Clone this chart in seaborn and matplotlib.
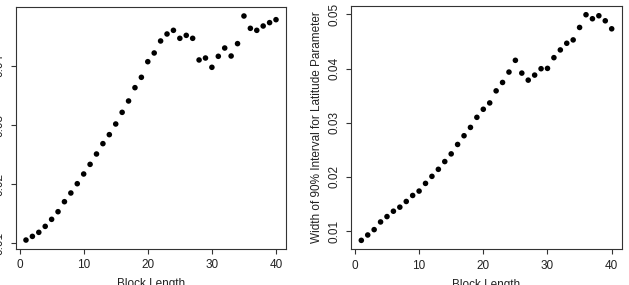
import numpy as np
import pandas as pd
import matplotlib
matplotlib.use("Agg")
import matplotlib.pyplot as plt
import seaborn as sns

# Datos
block_length = list(range(1, 41))

width_left = [0.01056, 0.01118, 0.01186, 0.01287, 0.01406, 0.01535, 0.01704, 0.01851,
              0.02008, 0.02172, 0.02335, 0.02510, 0.02685, 0.02837, 0.03017, 0.03214,
              0.03406, 0.03631, 0.03806, 0.04070, 0.04217, 0.04420, 0.04538, 0.04600,
              0.04465, 0.04515, 0.04465, 0.04099, 0.04132, 0.03975, 0.04161, 0.04301,
              0.04166, 0.04375, 0.04842, 0.04634, 0.04600, 0.04673, 0.04730, 0.04780]

width_right = [0.00827, 0.00926, 0.01025, 0.01167, 0.01266, 0.01365, 0.01440, 0.01545,
               0.01656, 0.01737, 0.01879, 0.02009, 0.02139, 0.02282, 0.02424, 0.02598,
               0.02759, 0.02913, 0.03099, 0.03248, 0.03365, 0.03588, 0.03743, 0.03935,
               0.04152, 0.03916, 0.03786, 0.03879, 0.03997, 0.04003, 0.04201, 0.04344,
               0.04467, 0.04529, 0.04759, 0.04994, 0.04920, 0.04975, 0.04882, 0.04734]

x_ticks = [0, 10, 20, 30, 40]
left_yticks = [0.01, 0.02, 0.03, 0.04]
right_yticks = [0.01, 0.02, 0.03, 0.04, 0.05]
y_label = "Width of 90% Interval for Latitude Parameter"
x_label = "Block Length"

df = pd.DataFrame({"block": block_length, "left": width_left, "right": width_right})

sns.set_style("white")
plt.rcParams['font.family'] = ['Liberation Sans', 'DejaVu Sans']
plt.rcParams['axes.edgecolor'] = '#333333'
plt.rcParams['xtick.color'] = '#333333'
plt.rcParams['ytick.color'] = '#333333'

fig = plt.figure(figsize=(6.29, 2.85), dpi=100)
ax1 = fig.add_axes([0.0254, 0.1263, 0.4293, 0.849])
ax2 = fig.add_axes([0.5585, 0.125, 0.4299, 0.855])


def r_limits(vals):
    # rango estilo R (4% extra a cada lado)
    lo, hi = min(vals), max(vals)
    d = (hi - lo) * 0.04
    return lo - d, hi + d


for ax, col, yt in [(ax1, "left", left_yticks), (ax2, "right", right_yticks)]:
    sns.scatterplot(data=df, x="block", y=col, ax=ax, color="black", s=16,
                    edgecolor="none", linewidth=0)
    ax.set_xlim(r_limits(block_length))
    ax.set_ylim(r_limits(df[col]))
    ax.set_xticks(x_ticks)
    ax.set_yticks(yt)
    ax.set_yticklabels([f"{v:.2f}" for v in yt], rotation=90, va="center")
    ax.tick_params(axis="both", direction="out", length=3.5, width=0.8,
                   labelsize=8.5, labelcolor="#222222", pad=4, left=True, bottom=True)
    for sp in ax.spines.values():
        sp.set_linewidth(0.8)
        sp.set_visible(True)
    ax.set_xlabel(x_label, fontsize=8.5, color="#222222", labelpad=5)
    ax.set_ylabel("")

ax2.set_ylabel(y_label, fontsize=8.5, color="#222222", labelpad=4)

fig.savefig("out.png", dpi=100)
